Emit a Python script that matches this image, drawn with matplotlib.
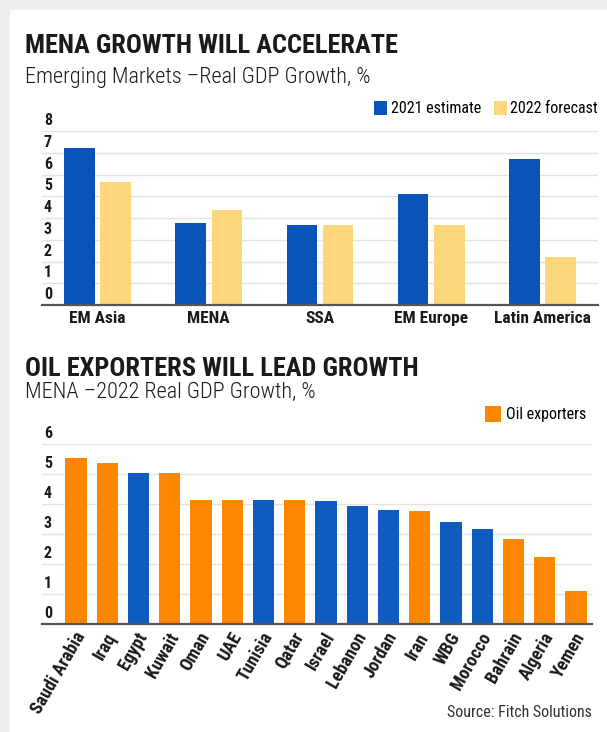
import matplotlib
matplotlib.use("Agg")
import matplotlib.pyplot as plt
import matplotlib.patches as mpatches
from matplotlib.transforms import ScaledTranslation, blended_transform_factory
import numpy as np

# ---------------- data ----------------
regions = ["EM Asia", "MENA", "SSA", "EM Europe", "Latin America"]
est_2021 = [7.2, 3.75, 3.7, 5.1, 6.7]
fc_2022 = [5.65, 4.35, 3.7, 3.7, 2.2]
top_yticks = [0, 1, 2, 3, 4, 5, 6, 7, 8]

countries = ["Saudi Arabia", "Iraq", "Egypt", "Kuwait", "Oman", "UAE", "Tunisia",
             "Qatar", "Israel", "Lebanon", "Jordan", "Iran", "WBG", "Morocco",
             "Bahrain", "Algeria", "Yemen"]
growth_2022 = [5.55, 5.38, 5.02, 5.02, 4.14, 4.14, 4.13, 4.13, 4.10, 3.94, 3.81,
               3.77, 3.39, 3.18, 2.82, 2.25, 1.09]
oil_exporter = [True, True, False, True, True, True, False, True, False, False,
                False, True, False, False, True, True, True]
bottom_yticks = [0, 1, 2, 3, 4, 5, 6]

# ---------------- style ----------------
W, H = 607, 732
COND = ["Roboto Condensed", "Liberation Sans Narrow", "Roboto", "DejaVu Sans"]
plt.rcParams["font.family"] = COND
BLUE_TOP = "#0a53b8"
YELLOW = "#fdd57a"
BLUE_BOT = "#0e5cc0"
ORANGE = "#ff8700"
GRID = "#e3e3e3"
AXIS = "#555555"
TXT = "#1a1a1a"

fig = plt.figure(figsize=(W / 100, H / 100), dpi=100, facecolor="#efefef")
fig.patches.append(mpatches.Rectangle((10 / W, 0), 1, 1 - 10 / H, transform=fig.transFigure,
                                      facecolor="white", edgecolor="none", zorder=-10))


def rect(l, t, r, b):
    return [l / W, 1 - b / H, (r - l) / W, (b - t) / H]


def style_axes(ax, yticks):
    ax.set_facecolor("none")
    for s in ["top", "right", "left"]:
        ax.spines[s].set_visible(False)
    ax.spines["bottom"].set_color(AXIS)
    ax.spines["bottom"].set_linewidth(1.6)
    ax.spines["bottom"].set_zorder(5)
    ax.set_yticks(yticks)
    ax.set_yticklabels([])
    ax.tick_params(axis="both", length=0)
    for v in yticks[1:]:
        ax.axhline(v, color=GRID, lw=1.0, zorder=0)
    tr = blended_transform_factory(ax.transAxes, ax.transData)
    for v in yticks:
        ax.text(0.0, v, str(v), transform=tr + ScaledTranslation(2 / 100, 3 / 100, fig.dpi_scale_trans),
                ha="left", va="bottom", fontsize=11.5, fontweight="bold", color=TXT)


# ---------------- titles ----------------
fig.text(25 / W, 1 - 53 / H, "MENA GROWTH WILL ACCELERATE", fontsize=19, fontweight="bold",
         color=TXT, va="baseline", ha="left")
fig.text(25 / W, 1 - 83 / H, "Emerging Markets \u2013Real GDP Growth, %", fontsize=16,
         fontweight="light", color=TXT, va="baseline", ha="left")
fig.text(25 / W, 1 - 376 / H, "OIL EXPORTERS WILL LEAD GROWTH", fontsize=19, fontweight="bold",
         color=TXT, va="baseline", ha="left")
fig.text(25 / W, 1 - 398 / H, "MENA \u20132022 Real GDP Growth, %", fontsize=16,
         fontweight="light", color=TXT, va="baseline", ha="left")
fig.text(592 / W, 1 - 717 / H, "Source: Fitch Solutions", fontsize=11.5,
         color="#333333", va="baseline", ha="right")

# ---------------- top chart ----------------
ax1 = fig.add_axes(rect(42, 131, 598, 305))
x = np.arange(len(regions))
bw = 0.275
off = 0.162
ax1.bar(x - off, est_2021, width=bw, color=BLUE_TOP, label="2021 estimate", zorder=2)
ax1.bar(x + off, fc_2022, width=bw, color=YELLOW, label="2022 forecast", zorder=2)
ax1.set_xlim(-0.5, 4.5)
ax1.set_ylim(0, 8)
style_axes(ax1, top_yticks)
ax1.set_xticks(x)
ax1.set_xticklabels(regions, fontsize=12.5, fontweight="bold", color=TXT)
ax1.tick_params(axis="x", pad=4)
ax1.legend(loc="lower right", bbox_to_anchor=(1.0, 1.085), ncol=2, frameon=False,
           fontsize=11.5, handlelength=0.85, handleheight=1.0, handletextpad=0.2,
           columnspacing=0.8, borderaxespad=0, borderpad=0)

# ---------------- bottom chart ----------------
ax2 = fig.add_axes(rect(42, 444, 592, 624))
xc = np.arange(len(countries))
vals = np.array(growth_2022)
oil = np.array(oil_exporter)
ax2.bar(xc[oil], vals[oil], width=0.68, color=ORANGE, label="Oil exporters", zorder=2)
ax2.bar(xc[~oil], vals[~oil], width=0.68, color=BLUE_BOT, zorder=2)
ax2.set_xlim(-1.09, 16.51)
ax2.set_ylim(0, 6)
style_axes(ax2, bottom_yticks)
ax2.set_xticks(xc)
ax2.set_xticklabels(countries, fontsize=13, fontweight="bold", color=TXT, rotation=60,
                    ha="right", va="center", rotation_mode="anchor")
ax2.tick_params(axis="x", pad=7)
for lab in ax2.get_xticklabels():
    lab.set_transform(lab.get_transform() + ScaledTranslation(5 / 100, 0, fig.dpi_scale_trans))
ax2.legend(loc="lower right", bbox_to_anchor=(0.99, 1.12), frameon=False,
           fontsize=11.5, handlelength=1.0, handleheight=1.2, handletextpad=0.3,
           borderaxespad=0, borderpad=0)

fig.savefig("out.png", dpi=100, facecolor=fig.get_facecolor())
